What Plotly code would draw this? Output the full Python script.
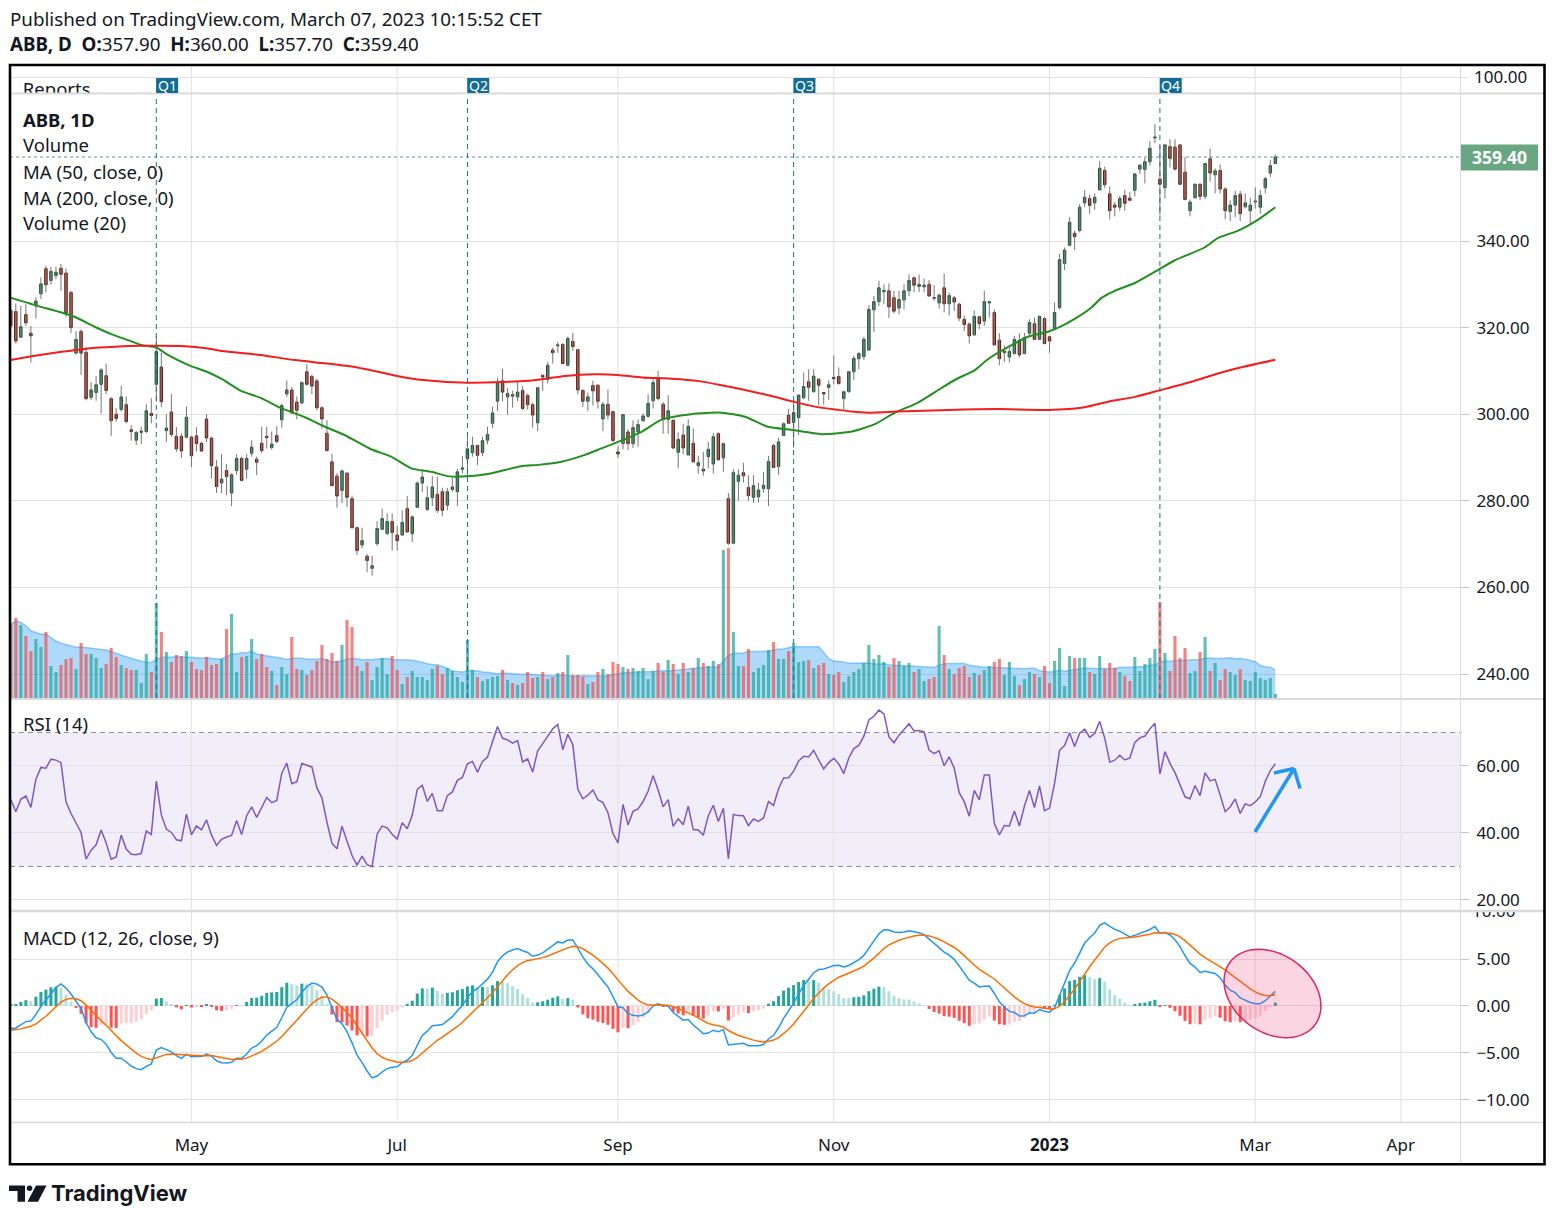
import math
import plotly.graph_objects as go

W, H = 1555, 1220
FONT = "Noto Sans"
INK = "#131722"
GRID = "#e2e2e2"

# ---------------- data ----------------
opens = [323.9, 323.7, 317.8, 323.0, 318.7, 325.0, 327.8, 333.6, 330.9, 332.0,
         333.7, 332.6, 328.1, 314.1, 319.1, 314.3, 303.9, 305.0, 306.9, 308.9,
         303.6, 300.0, 301.1, 302.2, 296.4, 294.0, 295.8, 296.0, 300.2, 306.9,
         310.9, 296.2, 300.5, 294.9, 294.9, 294.7, 294.7, 295.0, 293.3, 298.9,
         294.5, 287.8, 284.1, 287.0, 281.8, 287.0, 289.8, 287.3, 291.0, 289.6,
         293.3, 294.9, 292.3, 295.1, 298.7, 304.7, 305.6, 302.8, 302.6, 309.8,
         308.7, 307.7, 301.5, 295.6, 289.0, 285.7, 282.4, 286.4, 280.5, 273.8,
         269.8, 267.2, 264.4, 270.1, 273.4, 272.4, 275.2, 272.1, 272.1, 278.2,
         272.4, 278.5, 284.1, 278.0, 280.7, 281.5, 282.1, 279.0, 282.6, 282.1,
         287.3, 289.7, 291.1, 292.8, 291.1, 294.0, 297.9, 303.0, 307.7, 304.0,
         304.5, 304.0, 305.5, 304.3, 302.2, 298.0, 309.0, 308.0, 314.8, 315.8,
         316.1, 311.3, 316.8, 314.9, 305.5, 303.0, 306.6, 306.7, 298.9, 302.3,
         300.6, 291.3, 293.2, 295.9, 293.2, 295.9, 298.5, 299.5, 303.1, 308.1,
         302.3, 298.8, 298.6, 291.2, 295.2, 290.6, 293.3, 288.1, 287.3, 290.2,
         288.5, 295.5, 289.9, 280.5, 270.2, 284.5, 286.5, 283.1, 280.8, 280.9,
         282.8, 282.8, 292.8, 287.9, 295.1, 299.8, 298.1, 299.2, 303.8, 307.5,
         305.2, 308.1, 305.0, 306.2, 308.5, 308.7, 303.6, 305.2, 309.8, 312.8,
         313.3, 314.8, 324.1, 326.0, 328.3, 328.5, 326.9, 324.5, 326.4, 328.5,
         331.5, 329.5, 329.4, 330.0, 326.9, 325.7, 329.2, 325.5, 326.9, 325.4,
         321.9, 320.8, 318.3, 322.5, 321.5, 325.7, 323.5, 317.1, 314.2, 313.2,
         314.0, 317.1, 314.0, 318.7, 320.9, 317.3, 322.1, 317.9, 319.8, 324.6,
         334.8, 339.0, 341.8, 342.4, 348.8, 349.8, 348.8, 351.8, 356.3, 350.9,
         348.3, 347.8, 350.5, 349.9, 351.7, 356.6, 356.5, 358.3, 363.8, 354.3,
         352.3, 361.8, 361.7, 362.2, 355.9, 347.0, 350.0, 353.1, 350.3, 359.0,
         355.3, 356.3, 352.0, 346.8, 348.3, 350.8, 347.9, 347.0, 349.0, 347.8,
         352.3, 355.7, 357.9]
highs = [324.5, 325.6, 325.0, 325.4, 320.4, 327.0, 331.6, 334.3, 334.0, 334.1,
         334.7, 333.6, 328.5, 319.2, 319.6, 315.5, 307.4, 308.8, 310.7, 311.7,
         303.9, 301.4, 306.6, 304.1, 297.5, 296.1, 297.1, 302.3, 303.7, 318.1,
         314.2, 300.0, 304.7, 297.0, 295.6, 301.8, 295.0, 297.0, 293.6, 300.0,
         294.8, 289.4, 290.8, 288.5, 286.4, 290.8, 290.2, 290.8, 294.0, 290.2,
         297.1, 297.1, 296.0, 297.3, 302.4, 307.8, 306.3, 304.1, 307.6, 311.6,
         309.2, 308.2, 301.8, 298.6, 290.8, 286.4, 287.2, 286.6, 281.2, 274.0,
         273.8, 267.7, 267.3, 275.3, 278.2, 277.1, 277.1, 274.2, 277.8, 281.1,
         276.6, 284.5, 287.3, 283.4, 285.7, 285.5, 283.0, 283.0, 285.3, 287.4,
         290.3, 294.9, 294.8, 292.8, 294.8, 297.1, 301.7, 308.4, 310.5, 306.1,
         305.4, 307.7, 306.5, 304.8, 302.7, 306.1, 309.1, 312.1, 315.4, 316.7,
         316.4, 317.9, 318.8, 315.1, 305.7, 305.0, 307.7, 306.9, 302.8, 305.7,
         300.7, 292.6, 300.0, 296.5, 298.6, 298.8, 300.2, 304.6, 308.5, 310.0,
         302.8, 304.4, 298.8, 295.8, 297.7, 298.8, 296.7, 290.4, 291.3, 293.6,
         295.6, 295.8, 293.5, 281.8, 287.3, 287.3, 288.8, 285.9, 285.9, 284.2,
         286.7, 290.4, 293.1, 294.6, 298.1, 301.2, 303.1, 304.6, 309.6, 310.4,
         310.4, 308.2, 305.0, 307.8, 313.6, 310.8, 305.4, 310.0, 313.5, 314.4,
         317.9, 325.2, 327.3, 330.8, 330.0, 330.2, 328.5, 328.5, 330.0, 332.3,
         331.8, 332.3, 331.3, 331.0, 329.8, 327.9, 332.5, 328.1, 327.3, 325.8,
         322.8, 321.2, 324.0, 322.7, 328.5, 326.2, 324.2, 318.7, 315.9, 315.4,
         318.1, 318.7, 318.8, 321.9, 322.3, 322.8, 322.5, 318.1, 325.8, 337.0,
         338.5, 345.5, 342.4, 348.5, 351.8, 350.7, 351.0, 358.5, 357.2, 352.6,
         349.0, 350.4, 351.8, 351.3, 355.7, 357.8, 359.2, 363.1, 367.0, 362.0,
         362.4, 363.5, 363.5, 362.2, 359.4, 349.6, 353.3, 353.3, 358.1, 361.3,
         356.8, 357.7, 352.4, 349.4, 351.6, 351.6, 351.0, 350.0, 352.4, 351.8,
         354.8, 358.7, 360.0]
lows = [319.8, 316.3, 317.6, 320.4, 311.9, 322.1, 326.6, 328.1, 329.9, 331.2,
        328.5, 322.5, 318.7, 313.8, 309.1, 303.2, 303.3, 303.1, 300.1, 304.6,
        295.0, 298.3, 300.6, 297.9, 293.9, 292.9, 293.1, 295.6, 297.9, 302.9,
        301.6, 293.6, 294.8, 291.3, 289.9, 294.4, 287.8, 291.4, 291.3, 293.6,
        285.1, 281.8, 281.8, 281.3, 278.8, 286.0, 284.5, 285.1, 290.2, 285.9,
        291.0, 292.1, 291.8, 293.3, 296.9, 304.0, 300.2, 298.8, 302.3, 306.6,
        304.6, 300.9, 296.7, 291.4, 283.4, 278.4, 279.5, 278.6, 273.6, 267.5,
        269.0, 263.5, 262.7, 269.6, 273.3, 272.3, 268.5, 268.5, 271.9, 272.7,
        270.5, 278.4, 282.0, 277.6, 278.8, 277.2, 276.4, 277.8, 282.1, 278.8,
        286.3, 285.7, 290.2, 288.2, 290.3, 293.0, 296.8, 300.7, 303.0, 299.9,
        301.5, 303.0, 301.0, 301.1, 296.9, 296.1, 305.4, 307.1, 311.7, 314.2,
        311.5, 311.1, 314.6, 304.6, 301.7, 300.7, 302.0, 301.3, 296.1, 298.8,
        293.6, 289.9, 291.9, 291.7, 292.2, 292.5, 298.3, 299.2, 301.3, 303.2,
        295.5, 295.5, 291.9, 287.5, 290.8, 290.4, 288.8, 286.2, 285.8, 287.5,
        286.3, 289.2, 286.7, 269.8, 270.0, 280.0, 284.2, 280.0, 279.5, 279.6,
        281.9, 278.8, 287.5, 286.0, 295.0, 297.7, 292.3, 295.2, 303.5, 303.1,
        305.0, 302.1, 302.2, 303.3, 306.9, 306.8, 300.8, 305.0, 307.9, 310.4,
        312.5, 314.6, 319.0, 325.0, 325.4, 322.2, 323.3, 323.1, 324.2, 327.3,
        328.2, 328.2, 328.2, 327.2, 326.2, 324.4, 323.5, 322.8, 323.8, 321.5,
        319.2, 316.3, 318.1, 319.6, 320.4, 322.3, 315.9, 311.3, 312.1, 311.9,
        313.8, 313.1, 313.8, 318.1, 317.2, 317.2, 316.2, 314.2, 319.6, 324.2,
        333.3, 338.8, 337.9, 342.0, 347.8, 346.3, 347.2, 351.8, 352.2, 345.0,
        345.7, 347.0, 347.0, 349.2, 350.3, 355.5, 353.3, 357.4, 362.6, 345.9,
        349.8, 357.0, 356.3, 352.9, 349.4, 345.7, 349.8, 349.4, 349.7, 353.7,
        351.0, 351.0, 345.0, 344.6, 345.5, 344.6, 347.5, 343.7, 347.5, 346.3,
        351.0, 354.8, 357.7]
closes = [320.4, 316.9, 320.2, 321.1, 318.1, 326.1, 330.1, 329.9, 333.0, 332.8,
          332.3, 323.3, 320.0, 317.3, 314.1, 303.6, 305.6, 306.8, 310.2, 305.5,
          298.5, 299.0, 304.0, 298.3, 296.0, 295.8, 296.1, 300.8, 299.7, 314.5,
          302.9, 296.8, 295.3, 292.0, 291.5, 299.3, 290.4, 293.2, 291.5, 294.5,
          288.1, 283.3, 285.0, 285.6, 286.0, 289.8, 284.7, 289.8, 292.4, 288.9,
          291.6, 294.6, 293.1, 293.7, 302.0, 305.6, 300.3, 300.9, 307.3, 306.9,
          306.5, 301.5, 298.9, 291.6, 283.5, 281.1, 286.9, 280.8, 273.8, 268.5,
          270.8, 266.2, 265.0, 273.6, 275.9, 275.2, 272.7, 270.8, 275.0, 272.8,
          276.3, 284.1, 285.5, 280.7, 283.2, 277.8, 277.8, 282.1, 283.2, 286.7,
          287.6, 292.0, 292.8, 290.5, 293.9, 295.3, 300.3, 307.4, 305.1, 304.8,
          304.2, 305.1, 301.3, 302.2, 299.8, 306.1, 308.6, 311.3, 314.2, 316.0,
          311.7, 317.5, 315.6, 305.6, 303.0, 304.0, 305.4, 303.0, 302.3, 299.8,
          293.9, 290.8, 299.9, 293.2, 296.9, 297.6, 299.6, 302.5, 307.3, 303.6,
          298.8, 300.8, 292.2, 294.2, 292.2, 297.2, 289.0, 288.8, 286.9, 291.9,
          294.8, 289.5, 293.2, 270.2, 286.5, 285.9, 285.8, 281.2, 283.5, 282.5,
          283.6, 289.1, 287.7, 293.6, 297.8, 297.9, 300.4, 304.4, 306.4, 306.2,
          308.8, 306.7, 304.7, 306.8, 308.2, 307.1, 305.2, 309.8, 312.9, 314.0,
          317.3, 324.2, 326.0, 329.2, 328.6, 324.8, 323.8, 326.5, 328.5, 330.9,
          329.8, 330.0, 329.8, 327.3, 326.8, 327.5, 325.5, 327.4, 325.9, 322.2,
          320.7, 318.1, 322.6, 320.9, 326.0, 326.0, 316.0, 312.8, 314.6, 314.5,
          317.3, 313.7, 317.7, 321.2, 317.3, 322.6, 316.3, 316.9, 323.5, 335.7,
          337.9, 344.3, 341.0, 347.8, 350.1, 348.2, 350.1, 356.8, 353.0, 347.0,
          347.8, 349.8, 348.7, 349.4, 355.5, 357.5, 358.3, 361.4, 364.0, 353.1,
          362.2, 359.1, 356.6, 353.1, 349.6, 349.0, 353.1, 350.3, 357.9, 355.7,
          356.2, 352.0, 347.0, 348.3, 350.5, 346.3, 348.8, 348.3, 349.2, 350.5,
          354.4, 357.4, 359.4]
volumes_m = [3.70, 4.00, 3.65, 3.10, 2.35, 2.95, 2.55, 3.30, 1.60, 1.30,
             1.65, 1.95, 2.00, 1.45, 2.75, 2.20, 2.20, 2.00, 1.50, 1.70,
             2.50, 2.05, 1.65, 1.50, 1.40, 1.40, 0.75, 2.20, 1.30, 4.75,
             3.30, 2.30, 1.80, 2.15, 2.10, 2.35, 1.80, 1.45, 1.40, 2.05,
             1.65, 1.70,
             1.95, 3.45, 4.20, 1.30, 2.05, 2.10, 2.95, 1.95, 2.20, 1.55,
             1.35, 0.65, 1.55, 1.20, 3.05, 1.45, 1.40, 1.15, 1.40, 1.85,
             2.65, 1.95, 2.25, 1.85, 2.65, 3.90, 3.55, 1.60, 1.35, 1.80,
             0.90, 1.55, 2.00, 1.20, 2.10, 1.40, 0.70, 1.05, 1.35, 1.05,
             1.05, 0.90,
             1.45, 1.60, 1.20, 1.50, 1.35, 1.05, 0.80, 2.90, 1.40, 1.05,
             0.85, 0.95, 1.05, 1.10, 1.40, 0.90, 0.75, 0.65, 0.75, 1.30,
             1.00, 1.05, 1.30, 0.95, 1.05, 1.25, 1.30, 2.15, 1.15, 1.15,
             1.05, 0.70, 0.80, 1.30, 1.45, 1.20, 1.80, 1.70, 1.55, 1.45,
             1.50, 1.35,
             1.50, 0.95, 1.35, 1.75, 1.30, 1.90, 1.70, 1.20, 1.75, 1.30,
             1.50, 2.00, 1.75, 1.60, 1.85, 1.70, 7.40, 7.50, 3.30, 1.60,
             1.60, 2.45, 1.30, 1.50, 1.65, 2.40, 2.80, 1.95, 1.95, 2.35,
             2.75, 1.80, 1.85, 1.90, 1.50, 1.65, 1.75, 1.20, 1.15, 1.30,
             0.80, 1.10,
             1.30, 1.45, 1.75, 2.65, 1.95, 2.15, 1.80, 1.55, 2.00, 1.85,
             1.60, 1.75, 1.30, 1.45, 0.85, 0.95, 1.05, 3.60, 2.15, 1.45,
             1.20, 1.50, 1.60, 1.05, 1.25, 1.15, 1.40, 1.60, 1.80, 1.95,
             1.15, 1.80, 1.10, 0.65, 0.95, 1.30, 1.20, 1.05, 1.60, 0.75,
             1.85, 2.50,
             0.60, 2.10, 2.00, 2.00, 2.00, 1.30, 1.20, 2.10, 1.45, 1.75,
             1.50, 1.30, 1.10, 0.85, 2.05, 1.35, 1.70, 2.00, 2.45, 4.80,
             2.25, 1.35, 3.10, 2.00, 2.50, 1.25, 1.35, 2.30, 3.05, 1.35,
             1.75, 0.90, 1.45, 1.30, 1.15, 1.45, 0.90, 0.85, 1.30, 1.00,
             0.90, 1.00, 0.20]

ma50_idx = [-0.6, 4.8, 10.1, 12.7, 16.7, 20.0, 23.4, 26.0, 29.0, 31.3, 35.3, 39.3,
            42.1, 45.9, 49.9, 53.9, 58.6, 62.6, 66.5, 71.8, 75.8, 79.8, 83.8, 87.1,
            89.8, 95.1, 101.7, 105.1, 109.7, 114.4, 117.7, 121.0, 125.8, 129.6,
            135.6, 141.6, 146.3, 150.9, 155.5, 161.5, 164.8, 167.6, 172.2, 176.1,
            180.8, 185.4, 188.1, 192.1, 194.7, 198.7, 202.7, 206.7, 209.5, 212.0,
            215.3, 217.3, 220.0, 224.0, 228.6, 231.9, 237.9, 240.6, 244.6, 248.5, 252.0]
ma50_val = [327.1, 325.2, 323.5, 322.5, 320.2, 318.5, 317.1, 316.0, 315.4, 313.7, 311.4, 309.7,
            308.1, 305.4, 303.7, 301.4, 299.3, 297.1, 295.2, 291.9, 290.2, 287.5, 286.7, 285.7,
            285.6, 286.2, 288.0, 288.3, 289.0, 290.6, 292.1, 293.6, 296.0, 298.7,
            300.0, 300.35, 299.4, 297.1, 296.4, 295.4, 295.6, 296.0, 297.7, 300.3,
            302.7, 306.0, 307.9, 310.2, 312.7, 315.5, 317.9, 319.05, 320.4, 322.0,
            324.6, 326.8, 328.5, 330.3, 333.3, 335.5, 338.5, 340.7, 342.4, 344.9, 347.8]
ma200_idx = [-0.6, 4.8, 10.1, 15.4, 20.7, 26.0, 29.0, 34.0, 39.3, 42.1, 49.7, 56.6, 62.6,
             67.9, 73.2, 78.5, 83.9, 89.8, 96.4, 103.1, 107.1, 111.0, 116.4, 121.0, 125.8,
             131.6, 136.9, 141.6, 146.3, 151.6, 155.9, 160.2, 164.8, 167.6, 170.8, 176.8,
             186.8, 196.7, 206.7, 214.0, 218.7, 224.0, 228.9, 235.3, 240.6, 245.9, 252.0]
ma200_val = [312.4, 313.5, 314.4, 315.2, 315.6, 315.8, 315.8, 315.75, 315.2, 314.6, 313.7, 312.5, 311.75,
             311.0, 309.8, 308.5, 307.7, 307.3, 307.4, 307.7, 308.3, 308.9, 309.2, 309.05, 308.5,
             308.2, 307.7, 306.7, 305.6, 304.2, 302.9, 301.75, 301.0, 300.6, 300.35, 300.6,
             301.0, 301.2, 301.0, 301.6, 302.9, 304.0, 305.5, 307.5, 309.4, 311.0, 312.6]

tick_idx = [36, 77, 121, 164, 207, 248, 277]
tick_txt = ["May", "Jul", "Sep", "Nov", "<b>2023</b>", "Mar", "Apr"]
report_idx = [29, 91, 156, 229]
report_lbl = ["Q1", "Q2", "Q3", "Q4"]
price_ticks = [240, 260, 280, 300, 320, 340]
rsi_ticks = [20, 40, 60]
macd_ticks = [-10, -5, 0, 5]
last_price = 359.40

# indicator state at the first visible bar
rsi_seed_gain, rsi_seed_loss = 1.7, 1.7
ema12_seed, ema26_seed, signal_seed = 318.5, 320.9, -2.6

# ---------------- helpers ----------------
def X(p):
    return p / W


def Y(p):
    return 1 - p / H


n = len(closes)
idx = list(range(n))
up = [c >= o for o, c in zip(opens, closes)]
body_hi = [max(o, c) for o, c in zip(opens, closes)]
body_lo = [min(o, c) for o, c in zip(opens, closes)]

wx, wy = [], []
for i in idx:
    wx += [i, i, None]
    wy += [lows[i], highs[i], None]

vma = []
for i in idx:
    win = volumes_m[max(0, i - 19): i + 1]
    vma.append(sum(win) / len(win))

rsi = []
ag, al = rsi_seed_gain, rsi_seed_loss
for i in idx:
    if i > 0:
        ch = closes[i] - closes[i - 1]
        ag = (ag * 13 + max(ch, 0)) / 14
        al = (al * 13 + max(-ch, 0)) / 14
    rsi.append(100 - 100 / (1 + ag / al))

e12, e26, sig = [ema12_seed], [ema26_seed], []
for c in closes[1:]:
    e12.append(e12[-1] + 2 / 13 * (c - e12[-1]))
    e26.append(e26[-1] + 2 / 27 * (c - e26[-1]))
macd = [a - b for a, b in zip(e12, e26)]
s = signal_seed
for i, m in enumerate(macd):
    if i > 0:
        s = s + 0.2 * (m - s)
    sig.append(s)
hist = [m - s for m, s in zip(macd, sig)]
hcol = []
for i, h in enumerate(hist):
    prev = hist[i - 1] if i > 0 else h - 0.01
    if h >= 0:
        hcol.append("#26a69a" if h > prev else "#b2dfdb")
    else:
        hcol.append("#ff5252" if h < prev else "#ffcdd2")

vcol = ["rgba(38,166,154,0.72)" if u else "rgba(239,83,80,0.72)" for u in up]

# ---------------- traces ----------------
fig = go.Figure()
fig.add_trace(go.Scatter(x=idx, y=vma, mode="lines", fill="tozeroy",
                         fillcolor="rgba(33,150,243,0.36)",
                         line=dict(color="rgba(33,150,243,0.45)", width=1.5),
                         xaxis="x", yaxis="y", hoverinfo="skip"))
fig.add_trace(go.Bar(x=idx, y=volumes_m, width=0.62, marker=dict(color=vcol, line=dict(width=0)),
                     xaxis="x", yaxis="y2", hoverinfo="skip"))
fig.add_trace(go.Scatter(x=wx, y=wy, mode="lines", line=dict(color="#767676", width=1),
                         xaxis="x", yaxis="y3", hoverinfo="skip"))
fig.add_trace(go.Candlestick(x=idx, open=opens, close=closes, high=body_hi, low=body_lo,
                             increasing=dict(fillcolor="#3f9163", line=dict(color="#1f5137", width=1)),
                             decreasing=dict(fillcolor="#c8402f", line=dict(color="#5e1a12", width=1)),
                             whiskerwidth=0, xaxis="x", yaxis="y3", hoverinfo="skip"))
fig.add_trace(go.Scatter(x=ma50_idx, y=ma50_val, mode="lines", line=dict(color="#22901f", width=2, shape="spline", smoothing=0.6),
                         xaxis="x", yaxis="y3", hoverinfo="skip"))
fig.add_trace(go.Scatter(x=ma200_idx, y=ma200_val, mode="lines", line=dict(color="#f51c1c", width=2, shape="spline", smoothing=0.6),
                         xaxis="x", yaxis="y3", hoverinfo="skip"))
# RSI
fig.add_trace(go.Scatter(x=idx, y=rsi, mode="lines", line=dict(color="#7e57c2", width=1.5),
                         xaxis="x", yaxis="y4", hoverinfo="skip"))
# MACD
fig.add_trace(go.Bar(x=idx, y=hist, width=0.6, marker=dict(color=hcol, line=dict(width=0)),
                     xaxis="x", yaxis="y5", hoverinfo="skip"))
fig.add_trace(go.Scatter(x=idx, y=macd, mode="lines", line=dict(color="#2196f3", width=1.5),
                         xaxis="x", yaxis="y5", hoverinfo="skip"))
fig.add_trace(go.Scatter(x=idx, y=sig, mode="lines", line=dict(color="#ff6d00", width=1.5),
                         xaxis="x", yaxis="y5", hoverinfo="skip"))
# clipped "Reports" title and clipped "10.00" label
fig.add_trace(go.Scatter(x=[2.4], y=[0.08], mode="text", text=["Reports"], textposition="middle right",
                         textfont=dict(size=18.5, color=INK, family=FONT), cliponaxis=True,
                         xaxis="x", yaxis="y6", hoverinfo="skip"))
fig.add_trace(go.Scatter(x=[12], y=[10], mode="text", text=["10.00"], textposition="middle right",
                         textfont=dict(size=17, color=INK, family=FONT), cliponaxis=True,
                         xaxis="x2", yaxis="y7", hoverinfo="skip"))

# ---------------- layout ----------------
tickfont = dict(size=17, color=INK, family=FONT)
main_dom = [Y(698), Y(94)]
rsi_dom = [Y(910), Y(700)]
macd_dom = [Y(1122), Y(912)]
macd_rng = [-12.38, 10.03]

yax_common = dict(side="right", anchor="x", tickmode="array", showgrid=True, gridcolor=GRID,
                  zeroline=False, showline=False, ticks="outside", ticklen=8,
                  tickcolor="#c4c4c4", tickfont=tickfont, ticklabelstandoff=4, fixedrange=True)

layout = dict(
    width=W, height=H, margin=dict(l=0, r=0, t=0, b=0), autosize=False,
    paper_bgcolor="white", plot_bgcolor="white", showlegend=False,
    font=dict(family=FONT, color=INK),
    xaxis=dict(domain=[X(10), X(1460)], range=[-0.16, 288.8], anchor="free", position=Y(1122),
               showgrid=False, zeroline=False, showline=False, tickmode="array",
               tickvals=tick_idx, ticktext=tick_txt, ticks="outside", ticklen=8,
               tickcolor="rgba(0,0,0,0)", tickfont=tickfont, fixedrange=True,
               rangeslider=dict(visible=False)),
    xaxis2=dict(domain=[X(1460), X(1545)], range=[0, 85], anchor="y7", visible=False, fixedrange=True),
    yaxis=dict(domain=main_dom, range=[0, 30.2], visible=False, anchor="x", fixedrange=True),
    yaxis2=dict(overlaying="y", range=[0, 30.2], visible=False, anchor="x", fixedrange=True),
    yaxis3=dict(overlaying="y", range=[234.46, 373.95], tickvals=price_ticks,
                ticktext=["%.2f" % v for v in price_ticks], **yax_common),
    yaxis4=dict(domain=rsi_dom, range=[17.0, 79.7], tickvals=rsi_ticks,
                ticktext=["%.2f" % v for v in rsi_ticks], **yax_common),
    yaxis5=dict(domain=macd_dom, range=macd_rng, tickvals=macd_ticks,
                ticktext=[("%.2f" % v).replace("-", "\u2212") for v in macd_ticks], **yax_common),
    yaxis6=dict(domain=[Y(93.5), Y(65)], range=[0, 1], visible=False, anchor="x", fixedrange=True),
    yaxis7=dict(domain=macd_dom, range=macd_rng, visible=False, anchor="x2", fixedrange=True),
)

shapes = []
# RSI band
shapes.append(dict(type="rect", xref="paper", yref="y4", x0=X(10), x1=X(1460), y0=30, y1=70,
                   fillcolor="rgba(126,87,194,0.1)", line=dict(width=0), layer="below"))
for v in (30, 70):
    shapes.append(dict(type="line", xref="paper", yref="y4", x0=X(10), x1=X(1460), y0=v, y1=v,
                       line=dict(color="#8c8f98", width=1, dash="5px,4px"), layer="below"))
# vertical grid
for t in tick_idx:
    shapes.append(dict(type="line", xref="x", yref="paper", x0=t, x1=t, y0=Y(1122), y1=Y(65),
                       line=dict(color=GRID, width=1), layer="below"))
# reports strip grid line + tick
shapes.append(dict(type="line", xref="paper", yref="paper", x0=X(10), x1=X(1468), y0=Y(77.5), y1=Y(77.5),
                   line=dict(color=GRID, width=1), layer="below"))
# pane separators
for yy, wdt in ((93.5, 2), (699, 2), (911, 2.5), (1122.5, 1.5)):
    shapes.append(dict(type="line", xref="paper", yref="paper", x0=X(10), x1=X(1545), y0=Y(yy), y1=Y(yy),
                       line=dict(color="#dadada", width=wdt), layer="above"))
# right scale separator
shapes.append(dict(type="line", xref="paper", yref="paper", x0=X(1460.5), x1=X(1460.5), y0=Y(1165), y1=Y(65),
                   line=dict(color="#dadada", width=1), layer="above"))
# last price dotted line
shapes.append(dict(type="line", xref="paper", yref="y3", x0=X(10), x1=X(1460), y0=last_price, y1=last_price,
                   line=dict(color="#5f9a8c", width=1, dash="dot"), layer="below"))
# earnings markers
for k in report_idx:
    shapes.append(dict(type="line", xref="x", yref="paper", x0=k, x1=k, y0=Y(698), y1=Y(96),
                       line=dict(color="#1b6f90", width=1, dash="5px,4px"), layer="above"))
    shapes.append(dict(type="rect", xref="x", yref="paper", x0=k - 0.05, x1=k + 4.35, y0=Y(93), y1=Y(78),
                       fillcolor="#136c93", line=dict(width=0), layer="above"))
# last price label
shapes.append(dict(type="rect", xref="paper", yref="paper", x0=X(1461), x1=X(1538), y0=Y(170.5), y1=Y(144.5),
                   fillcolor="#69a782", line=dict(width=0), layer="above"))
# highlight ellipse on MACD
cx, cy, ea, eb, th = 1272.5, 993.5, 52.8, 38.9, math.radians(36)
pts = []
for j in range(73):
    t = 2 * math.pi * j / 72
    ex = cx + ea * math.cos(t) * math.cos(th) - eb * math.sin(t) * math.sin(th)
    ey = cy + ea * math.cos(t) * math.sin(th) + eb * math.sin(t) * math.cos(th)
    pts.append((X(ex), Y(ey)))
path = "M " + " L ".join("%.5f,%.5f" % p for p in pts) + " Z"
shapes.append(dict(type="path", xref="paper", yref="paper", path=path,
                   fillcolor="rgba(236,64,122,0.22)", line=dict(color="#e0245e", width=1.5), layer="above"))
# arrow drawn on RSI
for (x0, y0, x1, y1) in ((1255, 832, 1294, 768.5), (1274, 773, 1294, 768.5), (1294, 768.5, 1300, 788.5)):
    shapes.append(dict(type="line", xref="paper", yref="paper", x0=X(x0), y0=Y(y0), x1=X(x1), y1=Y(y1),
                       line=dict(color="#2196f3", width=3.5), layer="above"))
# outer frame
shapes.append(dict(type="rect", xref="paper", yref="paper", x0=X(10), x1=X(1544.5), y0=Y(1164.3), y1=Y(65),
                   line=dict(color="black", width=2.6), fillcolor="rgba(0,0,0,0)", layer="above"))
# TradingView logo mark
shapes.append(dict(type="path", xref="paper", yref="paper",
                   path="M %f,%f L %f,%f L %f,%f L %f,%f L %f,%f L %f,%f Z" % (
                       X(9), Y(1185.5), X(25), Y(1185.5), X(25), Y(1201.8), X(17.5), Y(1201.8),
                       X(17.5), Y(1191), X(9), Y(1191)),
                   fillcolor=INK, line=dict(width=0)))
shapes.append(dict(type="circle", xref="paper", yref="paper", x0=X(26.8), x1=X(32.3), y0=Y(1191), y1=Y(1185.5),
                   fillcolor=INK, line=dict(width=0)))
shapes.append(dict(type="path", xref="paper", yref="paper",
                   path="M %f,%f L %f,%f L %f,%f L %f,%f Z" % (
                       X(36), Y(1185.5), X(46.5), Y(1185.5), X(38), Y(1201.8), X(27.5), Y(1201.8)),
                   fillcolor=INK, line=dict(width=0)))
layout["shapes"] = shapes


def ann(text, x, y, size=18.5, color=INK, xanchor="left", family=FONT):
    return dict(text=text, x=X(x), y=Y(y), xref="paper", yref="paper", xanchor=xanchor, yanchor="middle",
                showarrow=False, font=dict(size=size, color=color, family=family))


anns = [
    ann("Published on TradingView.com, March 07, 2023 10:15:52 CET", 8, 18.5, 18.8),
    ann("<b>ABB, D</b>  <b>O:</b>357.90  <b>H:</b>360.00  <b>L:</b>357.70  <b>C:</b>359.40", 8, 43.5, 18.8),
    ann("<b>ABB, 1D</b>", 21, 119),
    ann("Volume", 21, 145),
    ann("MA (50, close, 0)", 21, 171),
    ann("MA (200, close, 0)", 21, 197),
    ann("Volume (20)", 21, 223),
    ann("RSI (14)", 21, 724),
    ann("MACD (12, 26, close, 9)", 21, 937),
    ann("100.00", 1472, 76.5, 17),
    ann("<b>359.40</b>", 1499.5, 157.5, 17.5, color="white", xanchor="center"),
    ann("<b>TradingView</b>", 49, 1193, 22, family="Inter"),
]
for k, lbl in zip(report_idx, report_lbl):
    anns.append(dict(text=lbl, x=k + 2.15, y=Y(85.8), xref="x", yref="paper", xanchor="center",
                     yanchor="middle", showarrow=False, font=dict(size=14, color="white", family=FONT)))
layout["annotations"] = anns

fig.update_layout(**layout)
fig.write_html("out.html", include_plotlyjs=True, config={"displayModeBar": False})
